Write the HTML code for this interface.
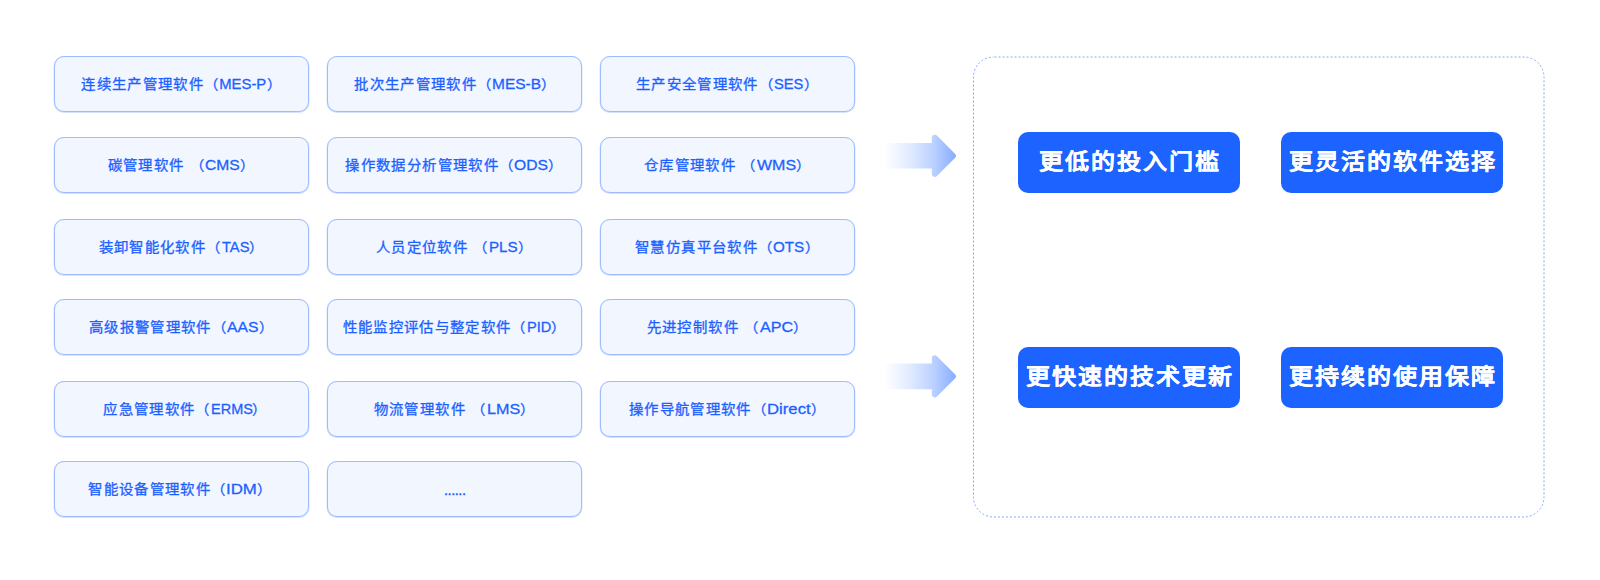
<!DOCTYPE html>
<html lang="zh-CN">
<head>
<meta charset="utf-8">
<style>
html,body{margin:0;padding:0;background:#fff;}
body{width:1600px;height:580px;position:relative;overflow:hidden;font-family:"Liberation Sans",sans-serif;}
.b{position:absolute;width:253px;height:54px;border:1px solid #9fbcff;border-radius:10px;box-shadow:0 0.5px 0 0.5px rgba(160,190,255,0.45);background:#f1f6ff;color:#1c60ff;font-size:14.4px;letter-spacing:1.35px;font-weight:400;-webkit-text-stroke:0.3px #1c60ff;display:flex;align-items:center;justify-content:center;white-space:pre;}
.c1{left:54px}.c2{left:327px}.c3{left:600px}
.r1{top:56px}.r2{top:137px}.r3{top:219px}.r4{top:299px}.r5{top:381px}.r6{top:461px}
.btn{position:absolute;width:222px;height:61px;border-radius:10px;background:#1c63ff;color:#fff;font-size:24px;letter-spacing:1.9px;font-weight:700;-webkit-text-stroke:0.12px #fff;display:flex;align-items:center;justify-content:center;white-space:nowrap;}
svg{position:absolute;left:0;top:0;}
.btn span{display:block;transform:translate(1px,-3px) scaleY(0.92);}
.b span{display:block;transform:translateY(-2px) scaleY(0.94);}
.b i{font-style:normal;display:inline-block;font-size:16.5px;letter-spacing:0;transform:scaleX(0.92);transform-origin:0 50%;}
</style>
</head>
<body>
<div class="b c1 r1"><span style="transform:translate(0.20px,-2px) scaleY(0.94)">连续生产管理软件（<i style="transform:scaleX(0.9008);margin-right:-5.16px">MES-P</i>）</span></div>
<div class="b c2 r1"><span style="transform:translate(1.00px,-2px) scaleY(0.94)">批次生产管理软件（<i style="transform:scaleX(0.9392);margin-right:-3.16px">MES-B</i>）</span></div>
<div class="b c3 r1"><span style="transform:translate(0.00px,-2px) scaleY(0.94)">生产安全管理软件（<i style="transform:scaleX(0.8897);margin-right:-3.64px">SES</i>）</span></div>
<div class="b c1 r2"><span style="transform:translate(0.00px,-2px) scaleY(0.94)">碳管理软件 （<i style="transform:scaleX(0.9470);margin-right:-1.96px">CMS</i>）</span></div>
<div class="b c2 r2"><span style="transform:translate(0.00px,-2px) scaleY(0.94)">操作数据分析管理软件（<i style="transform:scaleX(0.9478);margin-right:-1.88px">ODS</i>）</span></div>
<div class="b c3 r2"><span style="transform:translate(0.00px,-2px) scaleY(0.94)">仓库管理软件 （<i style="transform:scaleX(0.9700);margin-right:-1.20px">WMS</i>）</span></div>
<div class="b c1 r3"><span style="transform:translate(0.00px,-2px) scaleY(0.94)">装卸智能化软件（<i style="transform:scaleX(0.8877);margin-right:-3.48px">TAS</i>）</span></div>
<div class="b c2 r3"><span style="transform:translate(0.00px,-2px) scaleY(0.94)">人员定位软件 （<i style="transform:scaleX(0.9200);margin-right:-2.48px">PLS</i>）</span></div>
<div class="b c3 r3"><span style="transform:translate(0.00px,-2px) scaleY(0.94)">智慧仿真平台软件（<i style="transform:scaleX(0.9200);margin-right:-2.72px">OTS</i>）</span></div>
<div class="b c1 r4"><span style="transform:translate(0.00px,-2px) scaleY(0.94)">高级报警管理软件（<i style="transform:scaleX(0.9503);margin-right:-1.64px">AAS</i>）</span></div>
<div class="b c2 r4"><span style="transform:translate(0.00px,-2px) scaleY(0.94)">性能监控评估与整定软件（<i style="transform:scaleX(0.8843);margin-right:-3.24px">PID</i>）</span></div>
<div class="b c3 r4"><span style="transform:translate(0.00px,-2px) scaleY(0.94)">先进控制软件 （<i style="transform:scaleX(0.9788);margin-right:-0.72px">APC</i>）</span></div>
<div class="b c1 r5"><span style="transform:translate(4.00px,-2px) scaleY(0.94)">应急管理软件（<i style="transform:scaleX(0.8783);margin-right:-5.84px">ERMS</i>）</span></div>
<div class="b c2 r5"><span style="transform:translate(0.00px,-2px) scaleY(0.94)">物流管理软件 （<i style="transform:scaleX(0.9788);margin-right:-0.72px">LMS</i>）</span></div>
<div class="b c3 r5"><span style="transform:translate(0.00px,-2px) scaleY(0.94)">操作导航管理软件（<i style="transform:scaleX(1.0130);margin-right:0.56px">Direct</i>）</span></div>
<div class="b c1 r6"><span style="transform:translate(-1.00px,-2px) scaleY(0.94)">智能设备管理软件（<i style="transform:scaleX(1.0200);margin-right:0.60px">IDM</i>）</span></div>
<div class="b c2 r6"><span style="font-size:13px;letter-spacing:0;-webkit-text-stroke:0.5px #1c60ff;transform:translate(0.5px,1px)">......</span></div>

<svg width="1600" height="580" viewBox="0 0 1600 580">
<defs>
<linearGradient id="ag" x1="884" y1="0" x2="956" y2="0" gradientUnits="userSpaceOnUse">
<stop offset="0" stop-color="#ffffff"/>
<stop offset="0.35" stop-color="#e2ecff"/>
<stop offset="0.7" stop-color="#b9d0ff"/>
<stop offset="1" stop-color="#8aacff"/>
</linearGradient>
</defs>
<rect x="973.5" y="57" width="570.5" height="460" rx="20" ry="20" fill="none" stroke="#7ea6ff" stroke-width="1" stroke-dasharray="1.9 2.1" stroke-dashoffset="2.9"/>
<g id="arr"><path d="M884 146 H934.8 V137.74 L952.86 155.8 L934.8 173.86 V165.6 H884 Z" fill="url(#ag)" stroke="url(#ag)" stroke-width="6" stroke-linejoin="round"/></g>
<use href="#arr" transform="translate(0,220.6)"/>
</svg>

<div class="btn" style="left:1018px;top:132px"><span>更低的投入门槛</span></div>
<div class="btn" style="left:1281px;top:132px"><span>更灵活的软件选择</span></div>
<div class="btn" style="left:1018px;top:347px"><span>更快速的技术更新</span></div>
<div class="btn" style="left:1281px;top:347px"><span>更持续的使用保障</span></div>
</body>
</html>
